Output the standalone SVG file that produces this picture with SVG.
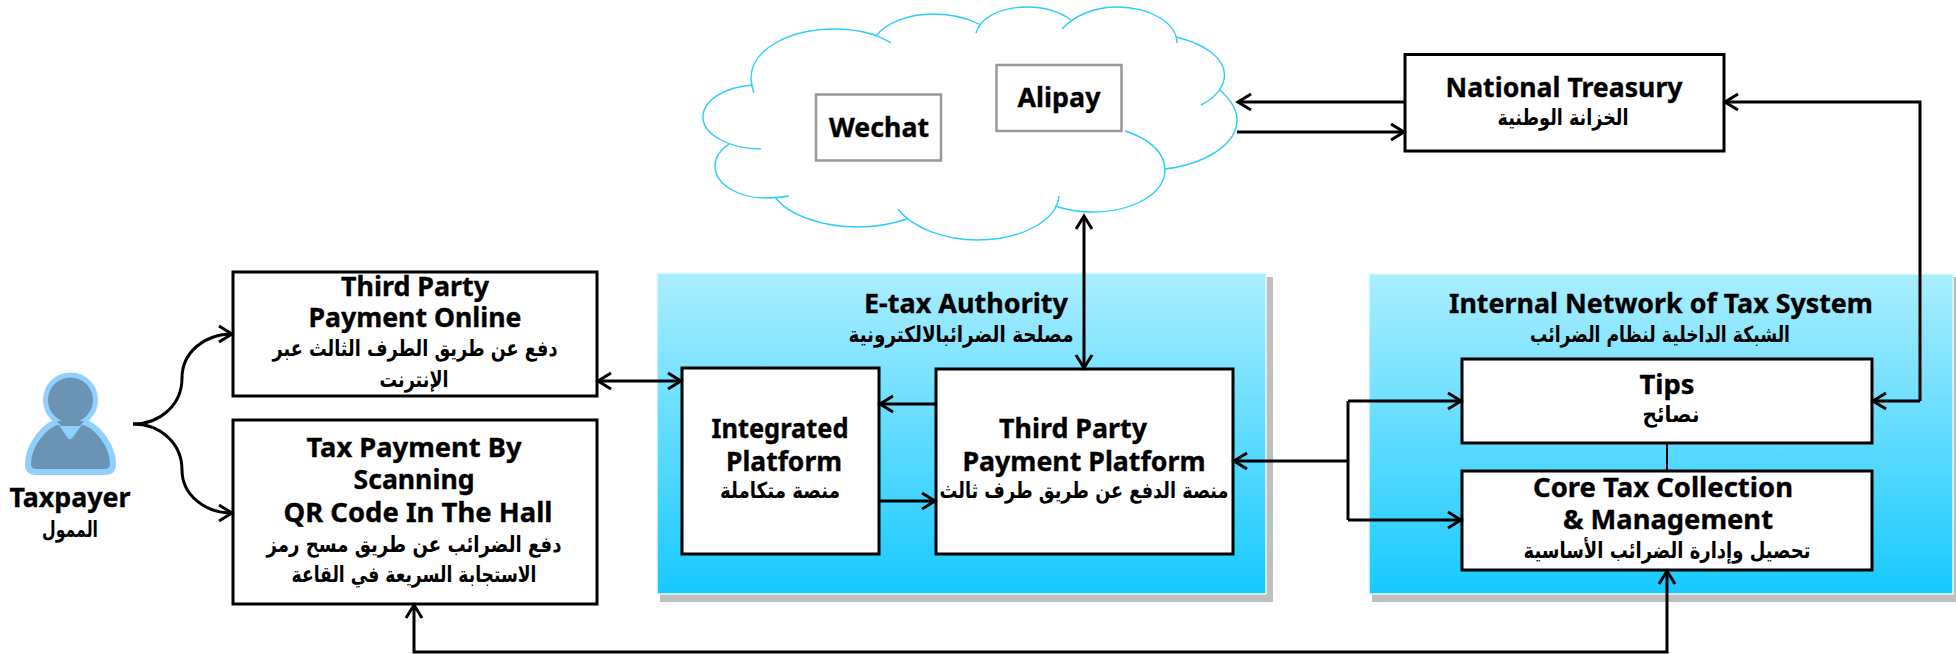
<svg xmlns="http://www.w3.org/2000/svg" width="1956" height="654" viewBox="0 0 1956 654">
<style>
.box{fill:#fff;stroke:#000;stroke-width:3}
.gbox{fill:#fff;stroke:#999;stroke-width:2.5}
.panel{fill:url(#pg);stroke:#e8f9ff;stroke-width:1.5}
.shadow{fill:#bfbfbf}
.c{fill:none;stroke:#000;stroke-width:3}
.arr{marker-end:url(#ah)}
.both{marker-start:url(#ah);marker-end:url(#ah)}
.cloud path{fill:none;stroke:#2ccdfb;stroke-width:1.4}
text{fill:#000;text-anchor:middle}
.en{font:bold 27px "Noto Sans","Open Sans","DejaVu Sans",sans-serif;stroke:#000;stroke-width:.35}
.ar{font:bold 22px "DejaVu Sans",sans-serif}
</style>
<defs>
<linearGradient id="pg" x1="0" y1="0" x2="0" y2="1"><stop offset="0" stop-color="#aaeeff"/><stop offset="1" stop-color="#17c9ff"/></linearGradient>
<marker id="ah" markerUnits="userSpaceOnUse" markerWidth="18" markerHeight="20" viewBox="0 0 18 20" refX="15" refY="10" orient="auto-start-reverse"><path d="M2 2 L15 10 L2 18" fill="none" stroke="#000" stroke-width="3"/></marker>
</defs>
<g id="panel-etax"><rect class="shadow" x="660" y="277" width="613" height="325"/><rect class="panel" x="657" y="273" width="609" height="321"/>
<text class="en" x="966" y="313" textLength="204" lengthAdjust="spacingAndGlyphs">E-tax Authority</text>
<text class="ar" x="961" y="342" textLength="225" lengthAdjust="spacingAndGlyphs">مصلحة الضرائبالالكترونية</text></g>
<g id="panel-internal"><rect class="shadow" x="1372" y="277" width="584" height="325"/><rect class="panel" x="1369" y="274" width="584" height="320"/>
<text class="en" x="1661" y="313" textLength="424" lengthAdjust="spacingAndGlyphs">Internal Network of Tax System</text>
<text class="ar" x="1660" y="342" textLength="260" lengthAdjust="spacingAndGlyphs">الشبكة الداخلية لنظام الضرائب</text></g>
<g id="cloud" class="cloud">
<path d="M891 43C875 33 855 29 835 29C788 29 751 50 751 78C751 83 752 88 754 93"/>
<path d="M753 85C725 87 703 100 703 117C703 135 730 149 761 149"/>
<path d="M729 144C720 150 715 158 715 166C715 184 738 198 766 198C774 198 782 197 789 196"/>
<path d="M775 197C788 215 822 227 858 227C875 227 892 224 907 219"/>
<path d="M898 209C912 228 945 240 978 240C1022 240 1057 220 1059 196"/>
<path d="M1055 206C1067 210 1079 212 1092 212C1132 212 1165 194 1165 170C1165 153 1150 139 1125 131"/>
<path d="M1165 169C1206 164 1237 144 1237 120C1237 109 1230 99 1220 90"/>
<path d="M1201 105C1215 98 1224.500 87 1224.500 75C1224.500 58 1205 44 1176 37"/>
<path d="M1177 43C1177 23 1150 7 1117 7C1095 7 1075 15 1062 29"/>
<path d="M1071 20C1060 12 1045 7 1027 7C1000 7 980 18 976 33"/>
<path d="M981 25C968 18 952 14 933 14C908 14 886 23 876 36"/>
</g>
<g id="wechat"><rect class="gbox" x="816" y="94.500" width="125" height="66"/><text class="en" x="879" y="137" textLength="100" lengthAdjust="spacingAndGlyphs">Wechat</text></g>
<g id="alipay"><rect class="gbox" x="996.500" y="65" width="125" height="66"/><text class="en" x="1059" y="107" textLength="83" lengthAdjust="spacingAndGlyphs">Alipay</text></g>
<g id="treasury"><rect class="box" x="1405" y="54.500" width="319" height="96.500"/>
<text class="en" x="1564" y="97" textLength="237" lengthAdjust="spacingAndGlyphs">National Treasury</text>
<text class="ar" x="1563" y="125" textLength="131" lengthAdjust="spacingAndGlyphs">الخزانة الوطنية</text></g>
<g id="taxpayer">
<path d="M36 472Q28 472 28 464C28 445 45 424 60 421L70 436L81 421C96 424 113 445 113 464Q113 472 105 472Z" fill="#6b93b3" stroke="#8fd0ff" stroke-width="6" stroke-linejoin="round"/>
<ellipse cx="70.500" cy="400" rx="25" ry="25" fill="#6b93b3" stroke="#8fd0ff" stroke-width="5"/>
<path d="M57 421H84L80 426H61Z" fill="#6b93b3"/>
<path d="M64 426H77L70.500 435Z" fill="#8fd0ff"/>
<text class="en" x="70" y="507" textLength="121" lengthAdjust="spacingAndGlyphs">Taxpayer</text>
<text class="ar" x="70" y="537" textLength="56" lengthAdjust="spacingAndGlyphs">الممول</text></g>
<g id="online"><rect class="box" x="233" y="272" width="364" height="124"/>
<text class="en" x="415" y="296" textLength="148" lengthAdjust="spacingAndGlyphs">Third Party</text>
<text class="en" x="415" y="327" textLength="213" lengthAdjust="spacingAndGlyphs">Payment Online</text>
<text class="ar" x="415" y="356" textLength="285" lengthAdjust="spacingAndGlyphs">دفع عن طريق الطرف الثالث عبر</text>
<text class="ar" x="414" y="387" textLength="69" lengthAdjust="spacingAndGlyphs">الإنترنت</text></g>
<g id="scan"><rect class="box" x="233" y="420" width="364" height="184"/>
<text class="en" x="414" y="457" textLength="215" lengthAdjust="spacingAndGlyphs">Tax Payment By</text>
<text class="en" x="414" y="489" textLength="121" lengthAdjust="spacingAndGlyphs">Scanning</text>
<text class="en" x="418" y="522" textLength="269" lengthAdjust="spacingAndGlyphs">QR Code In The Hall</text>
<text class="ar" x="414" y="552" textLength="295" lengthAdjust="spacingAndGlyphs">دفع الضرائب عن طريق مسح رمز</text>
<text class="ar" x="414" y="582" textLength="245" lengthAdjust="spacingAndGlyphs">الاستجابة السريعة في القاعة</text></g>
<g id="integrated"><rect class="box" x="682" y="368" width="197" height="186"/>
<text class="en" x="780" y="438" textLength="137" lengthAdjust="spacingAndGlyphs">Integrated</text>
<text class="en" x="784" y="471" textLength="116" lengthAdjust="spacingAndGlyphs">Platform</text>
<text class="ar" x="780" y="498" textLength="120" lengthAdjust="spacingAndGlyphs">منصة متكاملة</text></g>
<g id="thirdparty"><rect class="box" x="936" y="369" width="297" height="185"/>
<text class="en" x="1073" y="438" textLength="148" lengthAdjust="spacingAndGlyphs">Third Party</text>
<text class="en" x="1084" y="471" textLength="243" lengthAdjust="spacingAndGlyphs">Payment Platform</text>
<text class="ar" x="1084" y="498" textLength="289" lengthAdjust="spacingAndGlyphs">منصة الدفع عن طريق طرف ثالث</text></g>
<g id="tips"><rect class="box" x="1462" y="359" width="410" height="84"/>
<text class="en" x="1667" y="394" textLength="55" lengthAdjust="spacingAndGlyphs">Tips</text>
<text class="ar" x="1671" y="422" textLength="57" lengthAdjust="spacingAndGlyphs">نصائح</text></g>
<g id="core"><rect class="box" x="1462" y="471" width="410" height="99"/>
<text class="en" x="1663" y="497" textLength="260" lengthAdjust="spacingAndGlyphs">Core Tax Collection</text>
<text class="en" x="1668" y="529" textLength="210" lengthAdjust="spacingAndGlyphs">&amp; Management</text>
<text class="ar" x="1667" y="558" textLength="287" lengthAdjust="spacingAndGlyphs">تحصيل وإدارة الضرائب الأساسية</text></g>
<g id="connectors">
<path class="c arr" d="M133 424C160 424 182 405 182 378C182 352 205 334 232 334"/>
<path class="c arr" d="M133 424C160 424 182 443 182 470C182 495 205 513 232 513"/>
<path class="c both" d="M598 381H681"/>
<path class="c arr" d="M936 404H880"/>
<path class="c arr" d="M879 501H935"/>
<path class="c both" d="M1084 216V368"/>
<path class="c arr" d="M1405 102H1238"/>
<path class="c arr" d="M1237 132H1404"/>
<path class="c arr" d="M1920 401V102H1725"/>
<path class="c arr" d="M1920 401H1873"/>
<path class="c arr" d="M1348 401H1461"/>
<path class="c arr" d="M1348 520H1461"/>
<path class="c" d="M1348 401V520"/>
<path class="c arr" d="M1348 461H1234"/>
<path class="c" style="stroke-width:2" d="M1667 443V471"/>
<path class="c both" d="M414 605V652H1667V571"/>
</g>
</svg>
